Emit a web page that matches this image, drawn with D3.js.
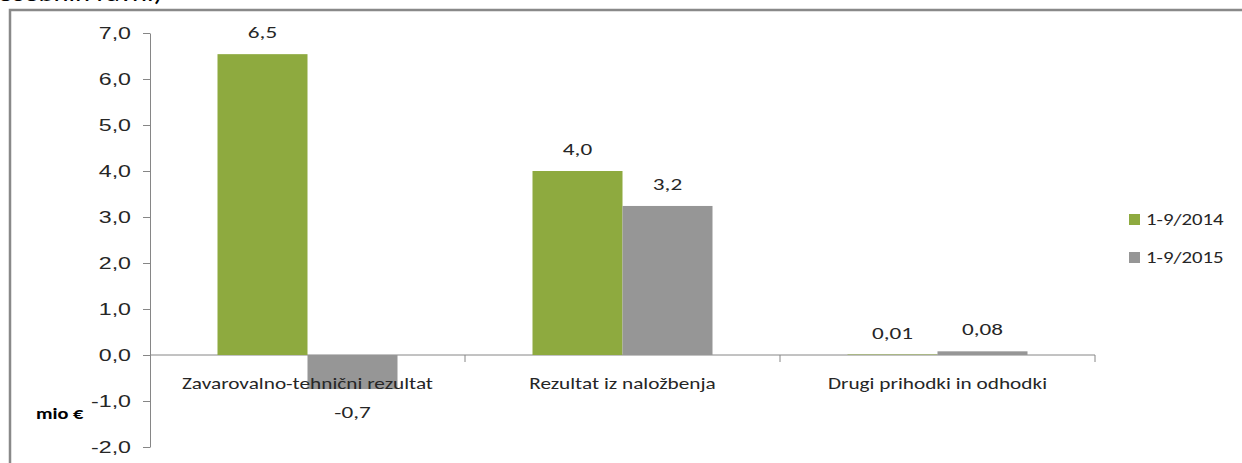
<!DOCTYPE html>
<html>
<head>
<meta charset="utf-8">
<script src="https://cdn.jsdelivr.net/npm/d3@7"></script>
<style>
  body { margin: 0; background: #fff; }
  svg { display: block; font-family: Carlito, Calibri, Lato, "Liberation Sans", sans-serif; }
</style>
</head>
<body>
<div id="chart"></div>
<script>
// podatki
const categories = ['Zavarovalno-tehnični rezultat', 'Rezultat iz naložbenja', 'Drugi prihodki in odhodki']
const seriesNames = ['1-9/2014', '1-9/2015']
const values2014 = [6.54, 4.0, 0.01]
const values2015 = [-0.74, 3.24, 0.08]
const labels2014 = ['6,5', '4,0', '0,01']
const labels2015 = ['-0,7', '3,2', '0,08']
const yTicks = [-2, -1, 0, 1, 2, 3, 4, 5, 6, 7]
const colors = ['#8eaa3f', '#969696']

const W = 1242, H = 463
const TXT = '#262626'
const svg = d3.select('#chart')
              .append('svg')
              .attr('width', W)
              .attr('height', H)

// besedilo je v izvorni sliki raztegnjeno v širino
const stretch = (sel, x, y, sx) => sel.attr('transform', `translate(${x},${y}) scale(${sx},1)`)

// odrezan naslov zgoraj
svg.append('text')
   .attr('font-size', 22)
   .attr('fill', '#000')
   .call(stretch, -2, 1, 1.3)
   .text('osebnih ravni)')

// okvir
svg.append('path')
   .attr('d', `M10,${H + 5} L10,10 L${W + 5},10`)
   .attr('fill', 'none')
   .attr('stroke', '#898989')
   .attr('stroke-width', 2.5)

const x = d3.scaleBand().domain(categories).range([150, 1095])
const xs = d3.scaleBand().domain(seriesNames).range([0, x.bandwidth()]).paddingOuter(0.75)
const y = d3.scaleLinear().domain([-2, 7]).range([447, 33])

const fmt = d3.formatLocale({ decimal: ',', thousands: '.', grouping: [3], currency: ['', '€'], minus: '-' }).format('.1f')

// os y
const yAxis = svg.append('g')
   .attr('transform', 'translate(150,0)')
   .call(d3.axisLeft(y).tickValues(yTicks).tickFormat(fmt).tickSize(7).tickSizeOuter(0))
yAxis.select('.domain').attr('stroke', '#868686')
yAxis.selectAll('.tick line').attr('stroke', '#868686')
yAxis.selectAll('.tick text')
   .attr('font-size', 16)
   .attr('fill', TXT)
   .attr('font-family', null)
   .attr('x', -19 / 1.45)
   .attr('transform', 'scale(1.45,1)')

// os x
svg.append('line')
   .attr('x1', 150).attr('x2', 1095)
   .attr('y1', y(0)).attr('y2', y(0))
   .attr('stroke', '#868686')
svg.selectAll('.xtick')
   .data(categories)
   .enter()
   .append('line')
   .attr('class', 'xtick')
   .attr('x1', d => x(d) + x.bandwidth()).attr('x2', d => x(d) + x.bandwidth())
   .attr('y1', y(0)).attr('y2', y(0) + 7)
   .attr('stroke', '#868686')

// stolpci
const rows = categories.map((c, i) => ({
  cat: c,
  items: [
    { s: seriesNames[0], v: values2014[i], label: labels2014[i], color: colors[0] },
    { s: seriesNames[1], v: values2015[i], label: labels2015[i], color: colors[1] }
  ]
}))

const groups = svg.selectAll('.grp')
   .data(rows)
   .enter()
   .append('g')
   .attr('class', 'grp')
   .attr('transform', d => `translate(${x(d.cat)},0)`)

groups.selectAll('rect')
   .data(d => d.items)
   .enter()
   .append('rect')
   .attr('x', d => xs(d.s))
   .attr('width', xs.bandwidth())
   .attr('y', d => y(Math.max(0, d.v)))
   .attr('height', d => Math.abs(y(d.v) - y(0)))
   .attr('fill', d => d.color)

groups.selectAll('.lbl')
   .data(d => d.items)
   .enter()
   .append('text')
   .attr('class', 'lbl')
   .each(function (d) {
     d3.select(this).call(stretch, xs(d.s) + xs.bandwidth() / 2, d.v >= 0 ? y(d.v) - 16 : y(d.v) + 29, 1.45)
   })
   .attr('text-anchor', 'middle')
   .attr('font-size', 16)
   .attr('fill', TXT)
   .text(d => d.label)

// oznake kategorij
svg.selectAll('.cat')
   .data(categories)
   .enter()
   .append('text')
   .attr('class', 'cat')
   .each(function (d) {
     d3.select(this).call(stretch, x(d) + x.bandwidth() / 2, 389, 1.33)
   })
   .attr('text-anchor', 'middle')
   .attr('font-size', 16)
   .attr('fill', TXT)
   .text(d => d)

// enota
svg.append('text')
   .call(stretch, 36, 419, 1.27)
   .attr('font-size', 16)
   .attr('font-weight', 'bold')
   .attr('fill', '#000')
   .text('mio €')

// legenda
const legend = svg.selectAll('.leg')
   .data(seriesNames)
   .enter()
   .append('g')
   .attr('class', 'leg')
   .attr('transform', (d, i) => `translate(1129,${214 + i * 38})`)
legend.append('rect')
   .attr('width', 11).attr('height', 11)
   .attr('fill', (d, i) => colors[i])
legend.append('text')
   .call(stretch, 17, 11, 1.3)
   .attr('font-size', 16)
   .attr('fill', TXT)
   .text(d => d)
</script>
</body>
</html>
